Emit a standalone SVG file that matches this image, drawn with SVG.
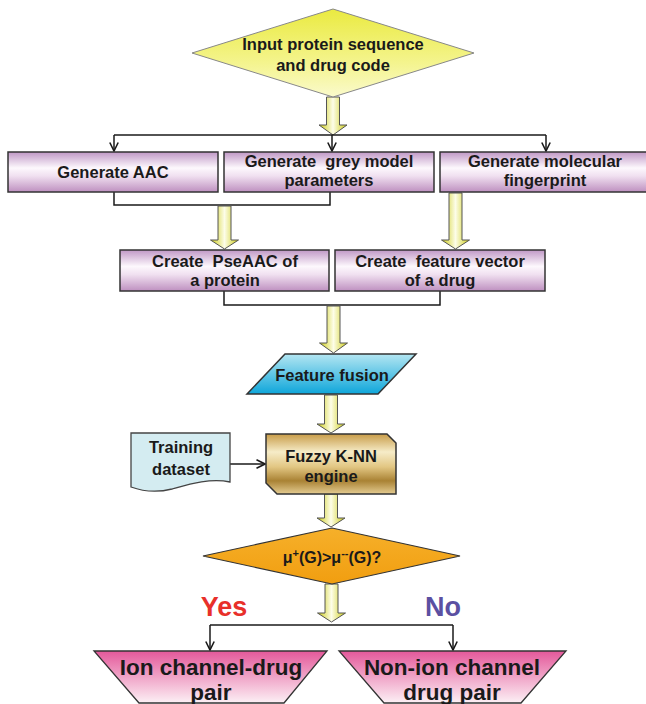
<svg xmlns="http://www.w3.org/2000/svg" width="646" height="704" viewBox="0 0 646 704">
<style>
text{font-family:"Liberation Sans",Arial,sans-serif;font-weight:bold;fill:#1a1a1a;text-anchor:middle;white-space:pre}
.t{font-size:16.5px}
.box{fill:url(#gPurple);stroke:#333;stroke-width:1.5}
.fat{fill:url(#gYellow);stroke:#555;stroke-width:1}
.ln{fill:none;stroke:#1a1a1a;stroke-width:1.5}
.arr{marker-end:url(#chev)}
.big{font-size:22.5px}
</style>
<defs>
<linearGradient id="gPurple" x1="0" y1="0" x2="0" y2="1">
<stop offset="0" stop-color="#c098c6"/>
<stop offset="0.4" stop-color="#fdf8fd"/>
<stop offset="0.6" stop-color="#f0e0f0"/>
<stop offset="1" stop-color="#be90c0"/>
</linearGradient>
<linearGradient id="gYellow" x1="0" y1="0" x2="1" y2="0">
<stop offset="0" stop-color="#cccc10"/>
<stop offset="0.5" stop-color="#fdfde8"/>
<stop offset="1" stop-color="#cccc10"/>
</linearGradient>
<linearGradient id="gTop" x1="0" y1="0" x2="0" y2="1">
<stop offset="0" stop-color="#eaea40"/>
<stop offset="0.6" stop-color="#f4f48c"/>
<stop offset="1" stop-color="#fafacc"/>
</linearGradient>
<linearGradient id="gCyan" x1="0" y1="0" x2="0" y2="1">
<stop offset="0" stop-color="#b4e6f2"/>
<stop offset="1" stop-color="#0ea6da"/>
</linearGradient>
<linearGradient id="gGold" x1="0" y1="0" x2="0" y2="1">
<stop offset="0" stop-color="#c89c48"/>
<stop offset="0.3" stop-color="#f6ecc8"/>
<stop offset="0.55" stop-color="#e2c682"/>
<stop offset="0.78" stop-color="#a98234"/>
<stop offset="1" stop-color="#e4cc92"/>
</linearGradient>
<linearGradient id="gOrange" x1="0" y1="0" x2="0" y2="1">
<stop offset="0" stop-color="#f6b02a"/>
<stop offset="1" stop-color="#f19e10"/>
</linearGradient>
<linearGradient id="gPink" x1="0" y1="0" x2="0" y2="1">
<stop offset="0" stop-color="#e4589a"/>
<stop offset="1" stop-color="#fcf0f5"/>
</linearGradient>
<marker id="chev" viewBox="0 0 10 10" refX="9.5" refY="5" markerWidth="10" markerHeight="10" markerUnits="userSpaceOnUse" orient="auto">
<path d="M1,0.8 L9.5,5 L1,9.2" fill="none" stroke="#1a1a1a" stroke-width="1.6"/>
</marker>
</defs>

<g id="connectors">
<polygon class="fat" points="326.5,97 339.5,97 339.5,125 347,125 333,135 319,125 326.5,125"/>
<path class="ln" d="M114,135 L546,135"/>
<path class="ln arr" d="M114,135 L114,151"/>
<path class="ln arr" d="M332,135 L332,151"/>
<path class="ln arr" d="M546,135 L546,151"/>
<path class="ln" d="M114,192 L114,205 L330,205 L330,192"/>
<polygon class="fat" points="218,206 231,206 231,240 238.5,240 224.5,249 210.5,240 218,240"/>
<polygon class="fat" points="449,193 462,193 462,240 469.5,240 455.5,249 441.5,240 449,240"/>
<path class="ln" d="M224,291 L224,305 L440,305 L440,291"/>
<polygon class="fat" points="327,306 340,306 340,343 347.5,343 333.5,353 319.5,343 327,343"/>
<polygon class="fat" points="324.5,395 337.5,395 337.5,424 345,424 331,433 317,424 324.5,424"/>
<path class="ln arr" d="M230,464 L265,464"/>
<polygon class="fat" points="324.5,494 337.5,494 337.5,518 345,518 331,527 317,518 324.5,518"/>
<polygon class="fat" points="325,584 338,584 338,613 345.5,613 331.5,622 317.5,613 325,613"/>
<path class="ln" d="M210,625 L453,625"/>
<path class="ln arr" d="M210,625 L210,650"/>
<path class="ln arr" d="M453,625 L453,650"/>
</g>

<g id="input">
<polygon points="333,9 474,53 333,97 192,53" fill="url(#gTop)" stroke="#888" stroke-width="1"/>
<text class="t" x="333" y="50">Input protein sequence</text>
<text class="t" x="333" y="71">and drug code</text>
</g>

<g id="aac">
<rect class="box" x="8" y="152" width="210" height="40"/>
<text class="t" x="113" y="178">Generate AAC</text>
</g>
<g id="grey">
<rect class="box" x="224" y="152" width="210" height="40"/>
<text class="t" x="329" y="167">Generate  grey model</text>
<text class="t" x="329" y="186">parameters</text>
</g>
<g id="fingerprint">
<rect class="box" x="440" y="152" width="210" height="40"/>
<text class="t" x="545" y="167">Generate molecular</text>
<text class="t" x="545" y="186">fingerprint</text>
</g>

<g id="pseaac">
<rect class="box" x="120" y="250" width="209" height="41"/>
<text class="t" x="225" y="267">Create  PseAAC of</text>
<text class="t" x="225" y="286">a protein</text>
</g>
<g id="featvec">
<rect class="box" x="335" y="250" width="210" height="41"/>
<text class="t" x="440" y="267">Create  feature vector</text>
<text class="t" x="440" y="286">of a drug</text>
</g>

<g id="fusion">
<polygon points="285,354 416,354 378,394 247,394" fill="url(#gCyan)" stroke="#333" stroke-width="1.5"/>
<text class="t" x="332" y="381">Feature fusion</text>
</g>

<g id="training">
<path d="M131,433 L230,433 L230,482 C210,478 190,484 172,489 C156,493 142,491 131,487 Z" fill="#d4ecf1" stroke="#444" stroke-width="1.3"/>
<text class="t" x="181" y="453">Training</text>
<text class="t" x="181" y="475">dataset</text>
</g>

<g id="fuzzy">
<path d="M266,434 L387,434 L396,443 L396,494 L277,494 L266,483 Z" fill="url(#gGold)" stroke="#333" stroke-width="1.5"/>
<text class="t" x="331" y="462">Fuzzy K-NN</text>
<text class="t" x="331" y="482">engine</text>
</g>

<g id="decision">
<polygon points="332,528 460,556 332,584 203,556" fill="url(#gOrange)" stroke="#333" stroke-width="1.2"/>
<text x="332" y="563" font-size="16">μ<tspan font-size="11" dy="-6">+</tspan><tspan dy="6">(G)&gt;μ</tspan><tspan font-size="11" dy="-6">--</tspan><tspan dy="6">(G)?</tspan></text>
</g>

<g id="labels">
<text x="224" y="616" font-size="27" style="fill:#e8302a">Yes</text>
<text x="443" y="616" font-size="27" style="fill:#5b50a2">No</text>
</g>

<g id="ion">
<polygon points="94,651 327,651 284,703 139,703" fill="url(#gPink)" stroke="#333" stroke-width="1.3"/>
<text class="big" x="211" y="675">Ion channel-drug</text>
<text class="big" x="211" y="700">pair</text>
</g>
<g id="nonion">
<polygon points="339,651 566,651 521,703 384,703" fill="url(#gPink)" stroke="#333" stroke-width="1.3"/>
<text class="big" x="452" y="675">Non-ion channel</text>
<text class="big" x="452" y="700">drug pair</text>
</g>
</svg>
